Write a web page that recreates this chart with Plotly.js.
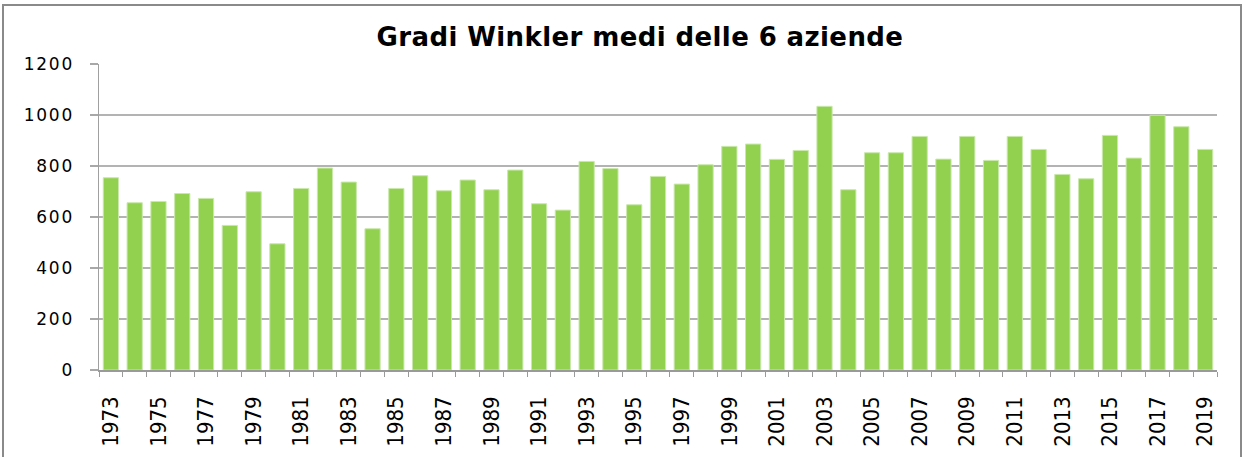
<!DOCTYPE html>
<html>
<head>
<meta charset="utf-8">
<script src="https://cdn.plot.ly/plotly-3.0.1.min.js"></script>
<style>
  html, body { margin: 0; padding: 0; background: #fff; }
  #wrap { position: relative; width: 1245px; height: 457px; overflow: hidden; }
  #chart { width: 1245px; height: 457px; }
  #frame { position: absolute; left: 2px; top: 4px; width: 1240px; height: 470px;
           border: 2px solid #8a8a8a; pointer-events: none; box-sizing: border-box; }
  #chart .gtitle { letter-spacing: 0.4px; }
  #chart .ytick text { letter-spacing: 1.8px; }
</style>
</head>
<body>
<div id="wrap">
  <div id="chart"></div>
  <div id="frame"></div>
</div>
<script>
const years = [1973,1974,1975,1976,1977,1978,1979,1980,1981,1982,1983,1984,1985,1986,1987,1988,1989,1990,
  1991,1992,1993,1994,1995,1996,1997,1998,1999,2000,2001,2002,2003,2004,2005,2006,2007,2008,2009,2010,
  2011,2012,2013,2014,2015,2016,2017,2018,2019];
const gradiWinkler = [754,656,661,692,673,567,699,495,712,792,737,554,712,762,703,745,707,784,
  652,627,818,790,648,759,729,805,877,886,826,861,1034,707,852,852,916,827,916,822,
  916,865,767,750,920,831,999,954,865];
const yTicks = [0,200,400,600,800,1000,1200];
const xTickYears = years.filter((y, i) => i % 2 === 0);
const chartTitle = "Gradi Winkler medi delle 6 aziende";

const trace = {
  type: 'bar',
  x: years,
  y: gradiWinkler,
  marker: { color: '#92d050', line: { color: '#c9e8ab', width: 1 } },
  hoverinfo: 'x+y'
};

const layout = {
  width: 1245, height: 457,
  margin: { l: 99, r: 28, t: 64, b: 87, pad: 0 },
  paper_bgcolor: '#ffffff', plot_bgcolor: '#ffffff',
  bargap: 0.36,
  showlegend: false,
  title: {
    text: '<b>' + chartTitle + '</b>',
    font: { family: 'DejaVu Sans, sans-serif', size: 26, color: '#000' },
    x: 0.514, xanchor: 'center', xref: 'container',
    y: 1 - 37/457, yanchor: 'middle', yref: 'container'
  },
  xaxis: {
    type: 'linear',
    range: [1972.5, 2019.5],
    tickmode: 'array',
    tickvals: xTickYears,
    ticktext: xTickYears.map(String),
    ticks: '',
    tickangle: -90,
    ticklabelstandoff: 16,
    tickfont: { family: 'DejaVu Sans Condensed, sans-serif', size: 22, color: '#000' },
    showgrid: false,
    zeroline: false,
    showline: true, linecolor: '#9a9a9a', linewidth: 1.5,
    minor: { tick0: 1972.5, dtick: 1, ticks: 'outside', ticklen: 5, tickcolor: '#9a9a9a', tickwidth: 1, showgrid: false },
    fixedrange: true
  },
  yaxis: {
    range: [0, 1200],
    tickmode: 'array',
    tickvals: yTicks,
    ticks: 'outside', ticklen: 8, tickcolor: '#a8a8a8', tickwidth: 1.5,
    ticklabelstandoff: 12,
    tickfont: { family: 'DejaVu Sans, sans-serif', size: 17, color: '#000' },
    showgrid: true, gridcolor: '#b3b3b3', gridwidth: 1.5,
    zeroline: false,
    showline: true, linecolor: '#a0a0a0', linewidth: 1.5,
    fixedrange: true
  }
};

Plotly.newPlot('chart', [trace], layout, { displayModeBar: false, staticPlot: true });
</script>
</body>
</html>
